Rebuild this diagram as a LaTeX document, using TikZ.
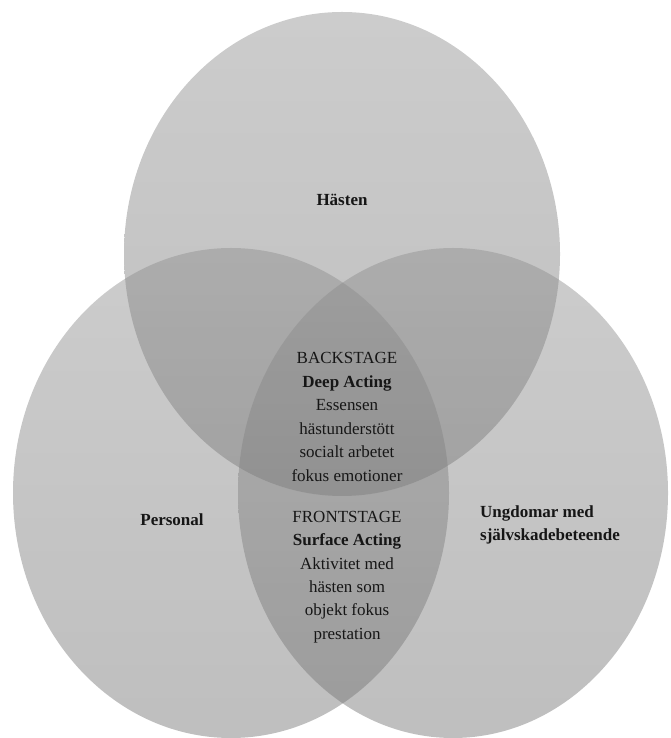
\documentclass[tikz,border=0pt]{standalone}
\usepackage{fontspec}
\setmainfont{Liberation Serif}
\usepackage{tikz}
\definecolor{Venn_light}{RGB}{142, 142, 142}
\definecolor{Venn_dark}{RGB}{112, 112, 112}
\definecolor{Text_dark}{RGB}{22, 22, 22}
\tikzset{
    venn set/.style={top color=Venn_light, bottom color=Venn_dark, fill opacity=0.45},
    venn text/.style={align=center, text=Text_dark, font=\fontsize{14.5}{20}\selectfont}
}

\begin{document}
\begin{tikzpicture}[x=0.03cm, y=0.03cm]
    \useasboundingbox (0,0) rectangle (670,738);

    %% Sets
    \shade[venn set] (342,484) ellipse [x radius=218, y radius=242];
    \shade[venn set] (231,245) ellipse [x radius=218, y radius=245];
    \shade[venn set] (453,245) ellipse [x radius=215, y radius=245];

    %% Set labels
    \node[venn text] (hasten) at (342,538) {\textbf{Hästen}};
    \node[venn text] (personal) at (172,218) {\textbf{Personal}};
    \node[venn text, align=left, anchor=west] (ungdomar) at (476,213)
        {\textbf{Ungdomar med}\\\textbf{självskadebeteende}};

    %% Overlaps
    \node[venn text] (backstage) at (347,321)
        {BACKSTAGE\\\textbf{Deep Acting}\\Essensen\\hästunderstött\\socialt arbetet\\fokus emotioner};
    \node[venn text] (frontstage) at (347,161)
        {FRONTSTAGE\\\textbf{Surface Acting}\\Aktivitet med\\hästen som\\objekt fokus\\prestation};
\end{tikzpicture}
\end{document}
